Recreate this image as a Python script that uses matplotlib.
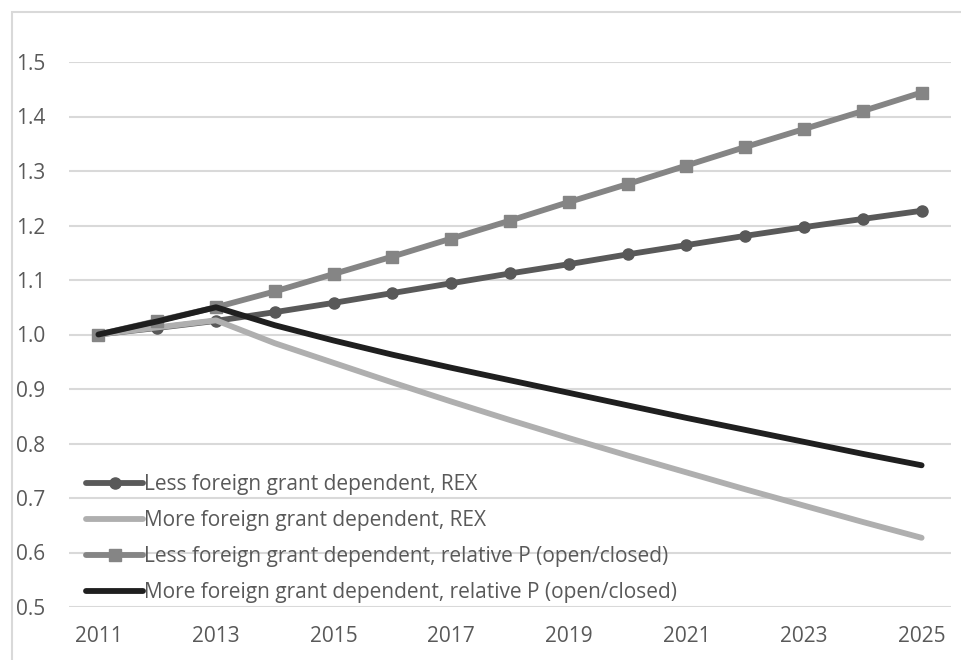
import matplotlib
matplotlib.use("Agg")
import matplotlib.pyplot as plt
from matplotlib.patches import Rectangle

years = list(range(2011, 2026))
tick_years = list(range(2011, 2026, 2))
y_ticks = [0.5, 0.6, 0.7, 0.8, 0.9, 1.0, 1.1, 1.2, 1.3, 1.4, 1.5]

less_rex = [1.000, 1.012, 1.025, 1.041, 1.058, 1.076, 1.094, 1.112, 1.129,
            1.147, 1.164, 1.181, 1.197, 1.212, 1.227]
more_rex = [1.000, 1.013, 1.026, 0.984, 0.948, 0.912, 0.877, 0.843, 0.810,
            0.778, 0.747, 0.716, 0.686, 0.656, 0.627]
less_p = [1.000, 1.025, 1.050, 1.079, 1.111, 1.143, 1.176, 1.209, 1.243,
          1.276, 1.310, 1.344, 1.377, 1.410, 1.444]
more_p = [1.000, 1.024, 1.050, 1.017, 0.989, 0.963, 0.939, 0.916, 0.893,
          0.870, 0.847, 0.825, 0.803, 0.781, 0.760]

labels = [
    "Less foreign grant dependent, REX",
    "More foreign grant dependent, REX",
    "Less foreign grant dependent, relative P (open/closed)",
    "More foreign grant dependent, relative P (open/closed)",
]

W, H = 961, 660
plt.rcParams["font.family"] = ["Open Sans", "DejaVu Sans"]
fig = plt.figure(figsize=(W / 100, H / 100), dpi=100)

# chart frame
fig.patches.append(Rectangle((12 / W, -0.1), 1.2, (H - 12) / H + 0.1,
                             transform=fig.transFigure, fill=False,
                             edgecolor="#d9d9d9", linewidth=1.5))

ax = fig.add_axes([69 / W, (H - 607) / H, (951 - 69) / W, (607 - 62) / H])
ax.set_xlim(2010.5, 2025.5)
ax.set_ylim(0.5, 1.5)

lw = 4.2
ax.plot(years, less_rex, color="#595959", lw=lw, marker="o", markersize=8,
        solid_capstyle="round", label=labels[0], zorder=3)
ax.plot(years, more_rex, color="#afafaf", lw=lw, solid_capstyle="round",
        label=labels[1], zorder=3)
ax.plot(years, less_p, color="#858585", lw=lw, marker="s", markersize=8,
        solid_capstyle="round", label=labels[2], zorder=3)
ax.plot(years, more_p, color="#1f1f1f", lw=lw, solid_capstyle="round",
        label=labels[3], zorder=4)

ax.set_yticks(y_ticks)
ax.set_yticklabels([f"{v:.1f}" for v in y_ticks])
ax.set_xticks(tick_years)
ax.set_xticklabels([str(y) for y in tick_years])
ax.grid(axis="y", color="#d9d9d9", linewidth=1.5)
ax.set_axisbelow(True)
for s in ax.spines.values():
    s.set_visible(False)
ax.tick_params(axis="both", length=0, labelsize=15, labelcolor="#595959")
ax.tick_params(axis="y", pad=17)
ax.tick_params(axis="x", pad=14)

leg = ax.legend(loc="lower left", bbox_to_anchor=(0.015, 0.0), frameon=False,
                fontsize=15, handlelength=2.7, handletextpad=0.05,
                labelspacing=0.72, borderaxespad=0.0, labelcolor="#595959",
                borderpad=0.2)

fig.savefig("out.png", dpi=100)
